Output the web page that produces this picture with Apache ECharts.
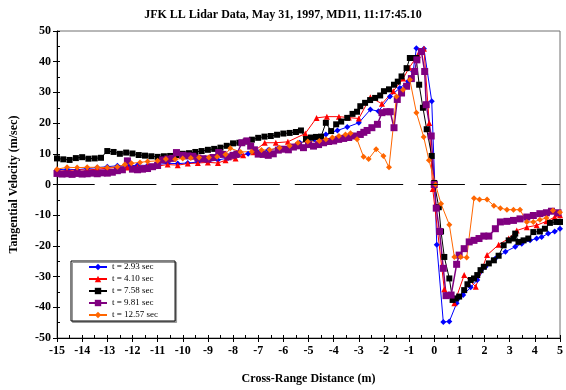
<!DOCTYPE html>
<html>
<head>
<meta charset="utf-8">
<script src="https://cdn.jsdelivr.net/npm/echarts@6/dist/echarts.min.js"></script>
<style>
  html, body { margin: 0; padding: 0; background: #fff; }
  #chart { width: 566px; height: 390px; }
</style>
</head>
<body>
<div id="chart"></div>
<script>
// Tangential velocity profiles across the vortex, one series per scan time.
const seriesNames = ['t = 2.93 sec', 't = 4.10 sec', 't = 7.58 sec', 't = 9.81 sec', 't = 12.57 sec'];

const xT293 = [-15, -14.6, -14.2, -13.8, -13.4, -13.0, -12.6, -12.2, -11.8, -11.4, -11.0, -10.6, -10.2, -9.8, -9.4, -9.0, -8.6, -8.2, -7.8, -7.4, -7.0, -6.6, -6.2, -5.8, -5.35, -4.77, -4.31, -3.85, -3.46, -3.0, -2.54, -2.22, -1.76, -1.37, -1.04, -0.84, -0.71, -0.41, -0.1, 0.02, 0.1, 0.36, 0.6, 0.89, 1.15, 1.45, 1.71, 2.04, 2.43, 2.83, 3.22, 3.48, 3.81, 4.07, 4.27, 4.53, 4.79, 5.0];
const yT293 = [4.8, 5.0, 4.8, 5.2, 5.5, 5.8, 6.1, 6.0, 6.3, 6.2, 6.5, 6.9, 6.8, 7.0, 7.3, 7.5, 8.0, 8.6, 9.6, 10.0, 10.5, 11.2, 11.8, 12.0, 13.6, 14.7, 16.3, 17.6, 18.7, 20.1, 24.4, 23.9, 28.7, 31.4, 33.6, 36.8, 44.4, 44.2, 27.1, 0.5, -19.6, -44.8, -44.6, -38.7, -36.0, -33.5, -31.1, -26.8, -24.1, -21.9, -20.3, -19.3, -18.2, -17.6, -17.1, -16.0, -15.3, -14.4];

const xT410 = [-15, -14.6, -14.2, -13.8, -13.4, -13.0, -12.6, -12.2, -11.8, -11.4, -11.0, -10.6, -10.2, -9.8, -9.4, -9.0, -8.6, -8.3, -7.9, -7.6, -7.2, -6.74, -6.3, -5.82, -5.13, -4.68, -4.27, -3.79, -3.4, -3.0, -2.54, -2.08, -1.63, -1.24, -1.0, -0.65, -0.41, -0.2, -0.06, 0.4, 0.8, 1.19, 1.65, 2.1, 2.56, 2.96, 3.28, 3.68, 4.07, 4.46, 4.79, 5.0];
const yT410 = [4.3, 4.5, 4.8, 4.7, 5.0, 5.3, 5.6, 5.5, 5.8, 6.2, 6.0, 6.5, 6.3, 6.8, 7.0, 7.2, 7.0, 7.9, 8.5, 9.5, 10.5, 13.6, 13.6, 13.9, 16.6, 21.7, 22.1, 22.1, 21.8, 21.5, 28.4, 26.3, 30.4, 34.5, 38.0, 42.2, 44.2, 20.0, -1.5, -34.1, -38.7, -29.5, -33.3, -23.0, -19.6, -17.6, -15.0, -13.9, -13.3, -12.0, -10.6, -10.0];

const xT758 = [-15, -14.75, -14.5, -14.25, -14.0, -13.75, -13.5, -13.25, -13.0, -12.75, -12.5, -12.25, -12.0, -11.75, -11.5, -11.25, -11.0, -10.75, -10.5, -10.25, -10.0, -9.75, -9.5, -9.25, -9.0, -8.75, -8.5, -8.25, -8.0, -7.75, -7.5, -7.25, -7.0, -6.75, -6.5, -6.25, -6.0, -5.75, -5.5, -5.3, -5.1, -4.9, -4.7, -4.5, -4.31, -4.1, -3.9, -3.7, -3.46, -3.25, -3.07, -2.94, -2.75, -2.55, -2.35, -2.15, -2.0, -1.8, -1.6, -1.45, -1.3, -1.1, -0.97, -0.85, -0.72, -0.6, -0.45, -0.3, -0.1, 0.0, 0.18, 0.27, 0.4, 0.6, 0.73, 0.86, 0.99, 1.19, 1.32, 1.45, 1.58, 1.71, 1.84, 1.97, 2.17, 2.37, 2.56, 2.76, 2.96, 3.15, 3.22, 3.35, 3.55, 3.74, 3.94, 4.2, 4.4, 4.6, 4.85, 5.0];
const yT758 = [8.5, 8.2, 8.0, 8.6, 8.9, 8.4, 8.5, 8.7, 10.9, 10.6, 10.0, 10.4, 10.1, 9.6, 9.4, 9.2, 9.0, 9.2, 9.3, 9.6, 10.0, 10.2, 10.6, 10.9, 11.3, 11.6, 12.0, 12.6, 13.4, 13.6, 14.0, 14.6, 15.2, 15.6, 15.8, 16.2, 16.6, 16.8, 17.1, 17.6, 14.8, 15.3, 15.5, 15.6, 20.1, 17.4, 19.6, 20.5, 21.7, 23.0, 23.7, 25.5, 26.6, 27.5, 28.2, 29.0, 30.4, 31.0, 32.5, 33.5, 35.2, 37.9, 41.2, 41.2, 41.2, 32.5, 25.0, 18.0, 9.3, 0.5, -7.4, -15.3, -23.6, -30.6, -37.6, -37.1, -36.5, -34.4, -32.5, -31.1, -30.6, -29.5, -27.9, -26.8, -25.7, -24.7, -23.2, -19.8, -18.2, -17.6, -16.0, -18.7, -18.2, -17.6, -15.5, -15.3, -14.4, -12.5, -12.2, -12.2];

const xT981 = [-15, -14.8, -14.6, -14.4, -14.2, -14.0, -13.8, -13.6, -13.4, -13.2, -13.0, -12.8, -12.6, -12.4, -12.2, -12.0, -11.8, -11.6, -11.4, -11.2, -11.0, -10.8, -10.6, -10.4, -10.25, -10.0, -9.8, -9.6, -9.4, -9.2, -9.0, -8.8, -8.57, -8.4, -8.2, -8.0, -7.85, -7.65, -7.45, -7.3, -7.15, -7.0, -6.8, -6.6, -6.4, -6.2, -6.0, -5.8, -5.6, -5.4, -5.2, -5.0, -4.8, -4.6, -4.4, -4.2, -4.0, -3.8, -3.6, -3.4, -3.2, -2.94, -2.8, -2.67, -2.48, -2.26, -2.08, -1.9, -1.75, -1.6, -1.47, -1.3, -1.1, -0.91, -0.78, -0.69, -0.51, -0.38, -0.32, -0.12, 0.0, 0.08, 0.21, 0.36, 0.47, 0.67, 0.89, 0.99, 1.19, 1.39, 1.58, 1.78, 1.97, 2.17, 2.43, 2.63, 2.89, 3.15, 3.41, 3.68, 3.94, 4.2, 4.46, 4.66, 4.92];
const yT981 = [3.6, 3.4, 3.5, 3.3, 3.6, 3.4, 3.5, 3.7, 3.5, 3.8, 3.7, 4.0, 4.5, 4.8, 7.7, 5.0, 4.8, 5.0, 5.2, 5.8, 6.2, 8.0, 8.3, 8.5, 10.4, 9.5, 9.3, 9.2, 8.6, 8.4, 8.3, 8.8, 10.4, 9.8, 9.0, 9.5, 9.9, 13.6, 14.2, 12.5, 11.3, 9.9, 9.8, 9.5, 10.0, 11.2, 11.5, 11.3, 12.2, 12.6, 12.0, 13.0, 12.5, 13.0, 13.6, 14.0, 14.2, 14.7, 15.0, 15.3, 15.8, 16.3, 17.0, 17.6, 18.5, 19.6, 23.4, 23.7, 23.7, 18.5, 27.7, 29.8, 32.0, 34.5, 36.8, 40.6, 43.3, 36.8, 26.0, 15.8, 0.0, -7.7, -15.3, -27.3, -36.2, -36.0, -26.0, -23.0, -20.9, -18.7, -18.2, -17.6, -16.8, -16.8, -14.4, -12.2, -12.0, -11.7, -11.2, -10.6, -10.1, -9.5, -9.2, -8.7, -9.2];

const xT1257 = [-15, -14.6, -14.2, -13.8, -13.4, -13.0, -12.6, -12.3, -12.04, -11.7, -11.4, -11.0, -10.67, -10.3, -10.0, -9.68, -9.35, -8.96, -8.63, -8.3, -8.11, -7.7, -7.26, -6.87, -6.55, -6.15, -5.75, -5.42, -5.03, -4.57, -4.31, -4.05, -3.79, -3.53, -3.33, -3.07, -2.81, -2.61, -2.31, -2.02, -1.8, -1.5, -1.24, -0.97, -0.71, -0.42, -0.21, 0.05, 0.27, 0.6, 0.8, 1.05, 1.29, 1.58, 1.8, 2.1, 2.37, 2.63, 2.89, 3.15, 3.41, 3.68, 3.94, 4.2, 4.46, 4.72, 5.0];
const yT1257 = [5.0, 5.6, 5.5, 5.6, 5.6, 5.5, 5.8, 6.5, 6.9, 7.2, 7.5, 7.7, 8.3, 8.2, 8.5, 8.6, 8.8, 8.8, 9.0, 9.8, 11.8, 10.6, 10.7, 11.2, 11.3, 12.0, 12.6, 13.6, 14.0, 14.2, 14.7, 15.3, 15.8, 16.3, 16.7, 14.7, 9.0, 8.3, 11.5, 9.3, 5.6, 28.7, 30.9, 34.1, 23.4, 15.5, 7.9, 0.0, -6.3, -13.1, -23.6, -23.6, -23.8, -4.5, -4.9, -4.9, -6.9, -7.7, -8.2, -8.2, -8.2, -12.2, -12.2, -11.5, -10.9, -8.5, -9.0];

// Axis ranges and tick steps
const xRange = [-15, 5];
const yRange = [-50, 50];
const xStep = 1;
const yStep = 10;

function pairs(xs, ys) {
  return xs.map((x, i) => [x, ys[i]]);
}

const serif = '"Liberation Serif", "Times New Roman", serif';

const styles = [
  { color: '#0000FF', symbol: 'diamond', size: 6, width: 1 },
  { color: '#FF0000', symbol: 'triangle', size: 6, width: 1 },
  { color: '#000000', symbol: 'rect', size: 6, width: 1 },
  { color: '#800080', symbol: 'rect', size: 7, width: 1.5 },
  { color: '#FF6600', symbol: 'diamond', size: 6, width: 1 }
];
const dataSets = [
  pairs(xT293, yT293),
  pairs(xT410, yT410),
  pairs(xT758, yT758),
  pairs(xT981, yT981),
  pairs(xT1257, yT1257)
];

const series = dataSets.map((d, i) => ({
  name: seriesNames[i],
  type: 'line',
  data: d,
  xAxisIndex: 0,
  yAxisIndex: 0,
  symbol: styles[i].symbol,
  symbolSize: styles[i].size,
  showAllSymbol: true,
  itemStyle: { color: styles[i].color },
  lineStyle: { color: styles[i].color, width: styles[i].width },
  emphasis: { disabled: true }
}));

// dashed zero reference line
series[0].markLine = {
  silent: true,
  symbol: 'none',
  label: { show: false },
  lineStyle: { color: '#000', width: 1, type: [46.7, 15], dashOffset: 9 },
  data: [{ yAxis: 0 }]
};

const chart = echarts.init(document.getElementById('chart'), null, { renderer: 'canvas' });
chart.setOption({
  animation: false,
  backgroundColor: '#fff',
  title: {
    text: 'JFK LL Lidar Data, May 31, 1997, MD11, 11:17:45.10',
    left: 'center',
    top: 4,
    textStyle: { fontFamily: serif, fontWeight: 'bold', fontSize: 12, color: '#000' }
  },
  grid: {
    left: 53, right: 4, top: 31, bottom: 50,
    show: true, borderColor: '#707070', borderWidth: 1
  },
  legend: {
    orient: 'vertical',
    left: 71,
    top: 261,
    itemWidth: 18,
    itemHeight: 8,
    itemGap: 2,
    padding: [1, 17, 1, 17],
    borderColor: '#000',
    borderWidth: 1,
    backgroundColor: '#fff',
    shadowColor: '#999',
    shadowOffsetX: 1.5,
    shadowOffsetY: 1.5,
    textStyle: { fontFamily: serif, fontSize: 9, color: '#000', lineHeight: 10 },
    data: seriesNames
  },
  xAxis: [{
    type: 'value',
    min: xRange[0], max: xRange[1], interval: xStep,
    name: 'Cross-Range Distance (m)',
    nameLocation: 'middle',
    nameGap: 35,
    nameTextStyle: { fontFamily: serif, fontWeight: 'bold', fontSize: 12, color: '#000' },
    axisLine: { onZero: false, lineStyle: { color: '#000', width: 1 } },
    axisTick: { show: true, length: 4, lineStyle: { color: '#000' } },
    axisLabel: { fontFamily: serif, fontWeight: 'bold', fontSize: 12, color: '#000', margin: 7 },
    splitLine: { show: false }
  }, {
    type: 'value',
    min: xRange[0], max: xRange[1], interval: xStep / 2,
    position: 'bottom',
    axisLine: { show: false, onZero: false },
    axisTick: { show: true, inside: true, length: 3, lineStyle: { color: '#000' } },
    axisLabel: { show: false },
    splitLine: { show: false }
  }],
  yAxis: [{
    type: 'value',
    min: yRange[0], max: yRange[1], interval: yStep,
    name: 'Tangential Velocity (m/sec)',
    nameLocation: 'middle',
    nameGap: 37,
    nameTextStyle: { fontFamily: serif, fontWeight: 'bold', fontSize: 12, color: '#000' },
    axisLine: { onZero: false, lineStyle: { color: '#000', width: 1 } },
    axisTick: { show: true, length: 4, lineStyle: { color: '#000' } },
    axisLabel: { fontFamily: serif, fontWeight: 'bold', fontSize: 12, color: '#000', margin: 6 },
    splitLine: { show: false }
  }, {
    type: 'value',
    min: yRange[0], max: yRange[1], interval: yStep / 2,
    position: 'left',
    axisLine: { show: false, onZero: false },
    axisTick: { show: true, inside: true, length: 3, lineStyle: { color: '#000' } },
    axisLabel: { show: false },
    splitLine: { show: false }
  }],
  series: series
});
</script>
</body>
</html>
